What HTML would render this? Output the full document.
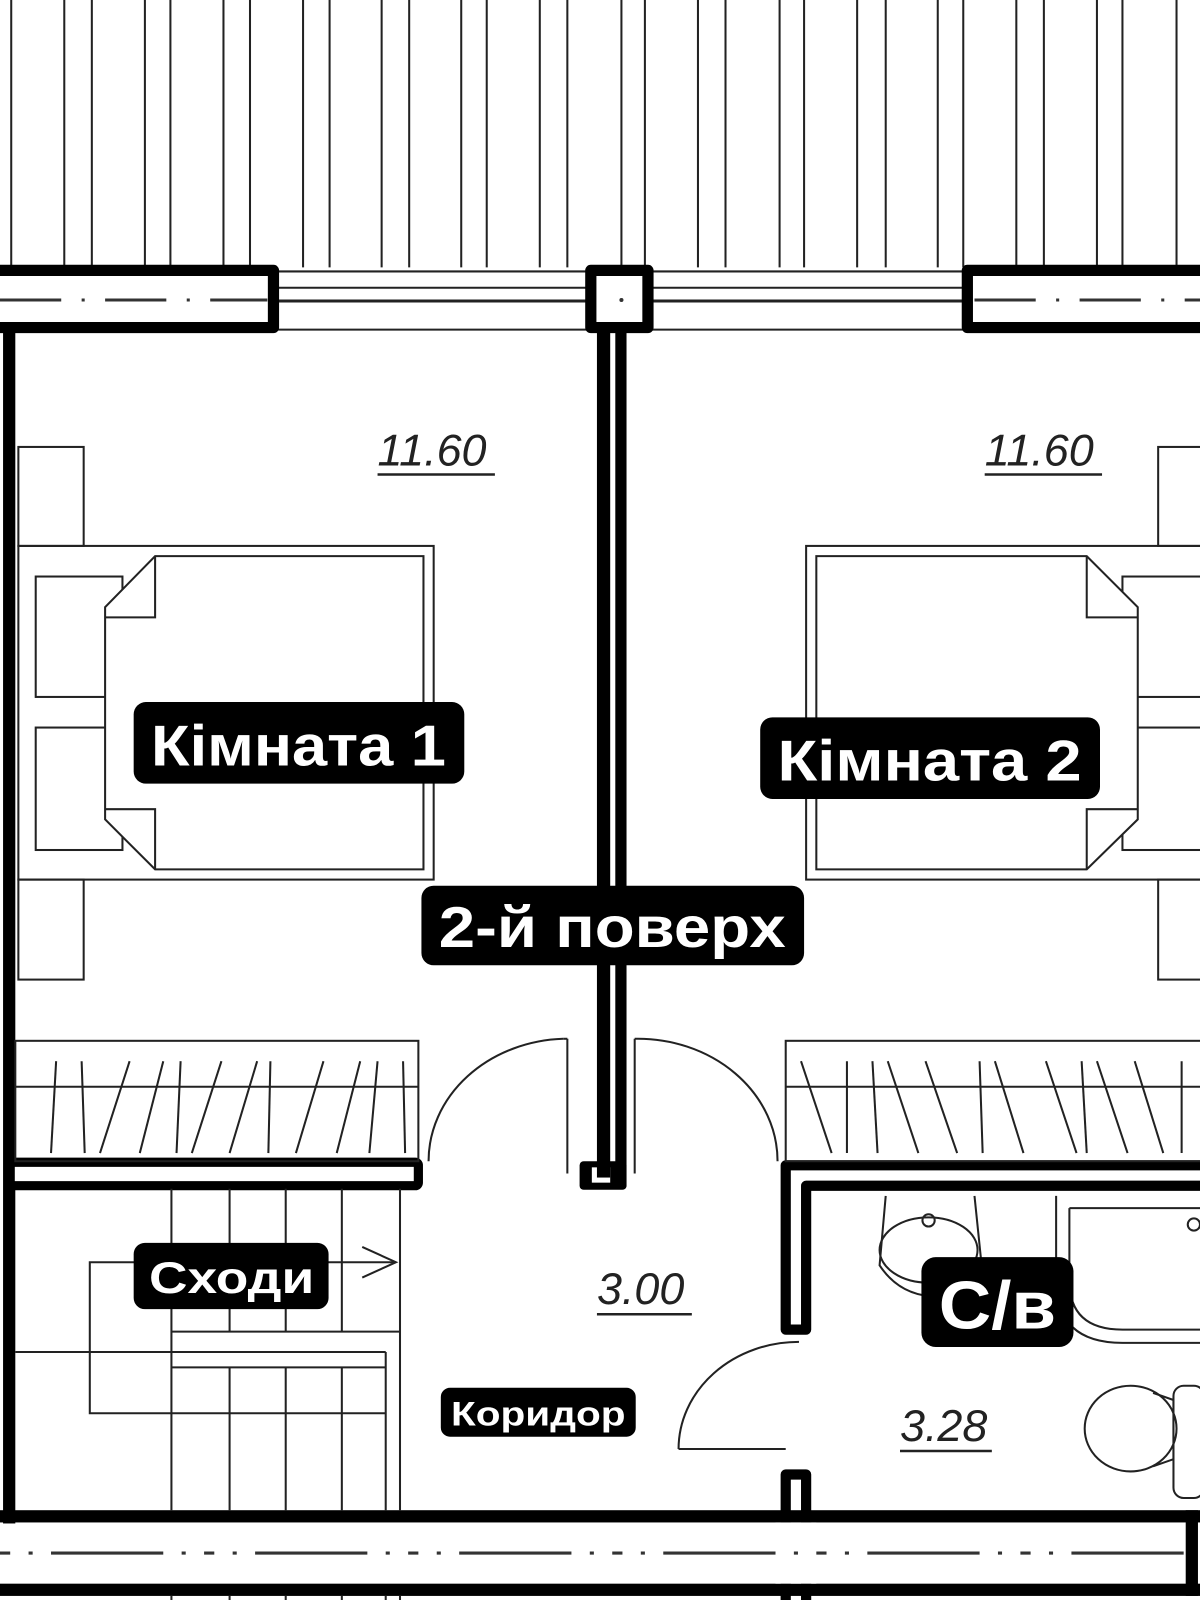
<!DOCTYPE html>
<html><head><meta charset="utf-8"><style>
html,body{margin:0;padding:0;background:#fff;}
svg{display:block;}
.t{font-family:"Liberation Sans",sans-serif;}
</style></head><body>
<svg width="1200" height="1600" viewBox="0 0 1176 1568" xmlns="http://www.w3.org/2000/svg">
<rect x="0" y="0" width="1176" height="1568" fill="#fff"/>
<g stroke="#222" stroke-width="2">
<line x1="11" y1="0" x2="11" y2="262"/><line x1="63" y1="0" x2="63" y2="262"/><line x1="90" y1="0" x2="90" y2="262"/><line x1="142" y1="0" x2="142" y2="262"/><line x1="167" y1="0" x2="167" y2="262"/><line x1="219" y1="0" x2="219" y2="262"/><line x1="245" y1="0" x2="245" y2="262"/><line x1="297" y1="0" x2="297" y2="262"/><line x1="323" y1="0" x2="323" y2="262"/><line x1="374" y1="0" x2="374" y2="262"/><line x1="401" y1="0" x2="401" y2="262"/><line x1="452" y1="0" x2="452" y2="262"/><line x1="477" y1="0" x2="477" y2="262"/><line x1="529" y1="0" x2="529" y2="262"/><line x1="556" y1="0" x2="556" y2="262"/><line x1="609" y1="0" x2="609" y2="262"/><line x1="632" y1="0" x2="632" y2="262"/><line x1="684" y1="0" x2="684" y2="262"/><line x1="711" y1="0" x2="711" y2="262"/><line x1="764" y1="0" x2="764" y2="262"/><line x1="788" y1="0" x2="788" y2="262"/><line x1="840" y1="0" x2="840" y2="262"/><line x1="868" y1="0" x2="868" y2="262"/><line x1="919" y1="0" x2="919" y2="262"/><line x1="944" y1="0" x2="944" y2="262"/><line x1="996" y1="0" x2="996" y2="262"/><line x1="1023" y1="0" x2="1023" y2="262"/><line x1="1075" y1="0" x2="1075" y2="262"/><line x1="1100" y1="0" x2="1100" y2="262"/><line x1="1153" y1="0" x2="1153" y2="262"/>
</g>
<g stroke="#222" fill="none">
<line x1="270" y1="266" x2="580" y2="266" stroke-width="2"/>
<line x1="270" y1="282" x2="580" y2="282" stroke-width="2"/>
<line x1="270" y1="295" x2="580" y2="295" stroke-width="3"/>
<line x1="270" y1="323" x2="580" y2="323" stroke-width="2"/>
<line x1="635" y1="266" x2="950" y2="266" stroke-width="2"/>
<line x1="635" y1="282" x2="950" y2="282" stroke-width="2"/>
<line x1="635" y1="295" x2="950" y2="295" stroke-width="3"/>
<line x1="635" y1="323" x2="950" y2="323" stroke-width="2"/>
</g>
<g stroke="#000" stroke-width="11" fill="#fff" stroke-linejoin="round">
<rect x="-10" y="265" width="278" height="56"/>
<rect x="579" y="265" width="56" height="56"/>
<rect x="948" y="265" width="240" height="56"/>
</g>
<g stroke="#333" stroke-width="3" stroke-dasharray="60 20 3 20">
<line x1="0" y1="294" x2="262" y2="294"/>
<line x1="955" y1="294" x2="1176" y2="294"/>
</g>
<circle cx="609" cy="294" r="2" fill="#333"/>
<rect x="3" y="318" width="12" height="1175" fill="#000"/>
<rect x="585" y="321" width="13" height="842" fill="#000"/>
<rect x="603" y="321" width="11" height="842" fill="#000"/>
<rect x="568" y="1138" width="46" height="28" rx="4" fill="#000"/>
<rect x="580" y="1144" width="18" height="15" fill="#fff"/>
<rect x="585" y="1140" width="13" height="14" fill="#000"/>
<rect x="10" y="1139" width="400" height="23" rx="3" fill="#fff" stroke="#000" stroke-width="9"/>
<path d="M1180 1142 H770 V1303 H790 V1162 H1180" fill="#fff" stroke="#000" stroke-width="10" stroke-linejoin="round"/>
<path d="M770 1568 V1445 H790 V1568" fill="#fff" stroke="#000" stroke-width="10" stroke-linejoin="round"/>
<rect x="0" y="1480" width="1176" height="12" fill="#000"/>
<rect x="0" y="1552" width="1176" height="12" fill="#000"/>
<rect x="1162" y="1480" width="12" height="84" fill="#000"/>
<rect x="760" y="1492" width="40" height="60" fill="#fff"/>
<line x1="0" y1="1522" x2="1160" y2="1522" stroke="#333" stroke-width="3" stroke-dasharray="10 18 4 18 110 18 4 18"/>
<g stroke="#222" stroke-width="2" fill="none">
<rect x="15" y="1020" width="395" height="118"/>
<line x1="15" y1="1065" x2="410" y2="1065"/>
<line x1="55" y1="1040" x2="50" y2="1130"/><line x1="80" y1="1040" x2="83" y2="1130"/><line x1="127" y1="1040" x2="98" y2="1130"/><line x1="160" y1="1040" x2="137" y2="1130"/><line x1="177" y1="1040" x2="173" y2="1130"/><line x1="217" y1="1040" x2="188" y2="1130"/><line x1="252" y1="1040" x2="225" y2="1130"/><line x1="265" y1="1040" x2="263" y2="1130"/><line x1="317" y1="1040" x2="290" y2="1130"/><line x1="353" y1="1040" x2="330" y2="1130"/><line x1="370" y1="1040" x2="362" y2="1130"/><line x1="395" y1="1040" x2="397" y2="1130"/>
<rect x="770" y="1020" width="420" height="118"/>
<line x1="770" y1="1065" x2="1176" y2="1065"/>
<line x1="785" y1="1040" x2="815" y2="1130"/><line x1="830" y1="1040" x2="830" y2="1130"/><line x1="855" y1="1040" x2="860" y2="1130"/><line x1="870" y1="1040" x2="900" y2="1130"/><line x1="907" y1="1040" x2="938" y2="1130"/><line x1="960" y1="1040" x2="963" y2="1130"/><line x1="975" y1="1040" x2="1003" y2="1130"/><line x1="1025" y1="1040" x2="1055" y2="1130"/><line x1="1060" y1="1040" x2="1065" y2="1130"/><line x1="1075" y1="1040" x2="1105" y2="1130"/><line x1="1112" y1="1040" x2="1140" y2="1130"/><line x1="1158" y1="1040" x2="1158" y2="1130"/>
</g>
<g stroke="#222" stroke-width="2" fill="none">
<path d="M420 1138 A137 120 0 0 1 552 1018"/>
<line x1="552" y1="1018" x2="556" y2="1018"/>
<line x1="556" y1="1018" x2="556" y2="1150"/>
<line x1="622" y1="1018" x2="622" y2="1150"/>
<path d="M622 1018 A137 120 0 0 1 762 1138"/>
<path d="M665 1420 A118 105 0 0 1 783 1315"/>
<line x1="665" y1="1420" x2="770" y2="1420"/>
</g>
<g stroke="#222" stroke-width="2" fill="none">
<line x1="168" y1="1165" x2="168" y2="1480"/>
<line x1="225" y1="1165" x2="225" y2="1305"/><line x1="225" y1="1340" x2="225" y2="1480"/>
<line x1="280" y1="1165" x2="280" y2="1305"/><line x1="280" y1="1340" x2="280" y2="1480"/>
<line x1="335" y1="1165" x2="335" y2="1305"/><line x1="335" y1="1340" x2="335" y2="1480"/>
<line x1="392" y1="1165" x2="392" y2="1480"/>
<line x1="378" y1="1325" x2="378" y2="1480"/>
<line x1="168" y1="1564" x2="168" y2="1568"/><line x1="225" y1="1564" x2="225" y2="1568"/><line x1="280" y1="1564" x2="280" y2="1568"/><line x1="335" y1="1564" x2="335" y2="1568"/><line x1="378" y1="1564" x2="378" y2="1568"/><line x1="392" y1="1564" x2="392" y2="1568"/>
<line x1="168" y1="1305" x2="392" y2="1305"/>
<line x1="15" y1="1325" x2="378" y2="1325"/>
<line x1="168" y1="1340" x2="378" y2="1340"/>
<path d="M388 1237 H88 V1385 H378"/>
<path d="M355 1222 L388 1237 L355 1252"/>
</g>
<g stroke="#222" stroke-width="2" fill="none">
<rect x="18" y="438" width="64" height="97"/>
<rect x="18" y="862" width="64" height="98"/>
<rect x="18" y="535" width="407" height="327"/>
<rect x="35" y="565" width="85" height="118"/>
<rect x="35" y="713" width="85" height="120"/>
<path d="M152 545 H415 V852 H152 L103 803 V595 Z" fill="#fff"/>
<path d="M152 545 V605 H103"/>
<path d="M152 852 V793 H103"/>
<rect x="1135" y="438" width="50" height="97"/>
<rect x="1135" y="862" width="50" height="98"/>
<rect x="790" y="535" width="400" height="327"/>
<rect x="1100" y="565" width="90" height="118"/>
<rect x="1100" y="713" width="90" height="120"/>
<path d="M1065 545 H800 V852 H1065 L1115 803 V595 Z" fill="#fff"/>
<path d="M1065 545 V605 H1115"/>
<path d="M1065 852 V793 H1115"/>
</g>
<g stroke="#222" stroke-width="2" fill="none">
<path d="M868 1172 L862 1240 Q885 1275 930 1270 L962 1240 L955 1172"/>
<ellipse cx="910" cy="1225" rx="48" ry="32"/>
<circle cx="910" cy="1196" r="6"/>
<path d="M1035 1172 V1255 Q1035 1316 1100 1316 H1176"/>
<path d="M1048 1184 H1176 M1048 1184 V1255 Q1048 1303 1100 1303 H1176"/>
<circle cx="1170" cy="1200" r="6"/>
<ellipse cx="1108" cy="1400" rx="45" ry="42"/>
<path d="M1130 1365 L1150 1372 V1430 L1130 1437"/>
<rect x="1150" y="1358" width="30" height="110" rx="10"/>
</g>
<g class="t" font-style="italic" font-size="44" fill="#222">
<text x="370" y="456">11.60</text>
<text x="965" y="456">11.60</text>
<text x="585" y="1278">3.00</text>
<text x="882" y="1412">3.28</text>
</g>
<g stroke="#222" stroke-width="2.5">
<line x1="370" y1="465" x2="485" y2="465"/>
<line x1="965" y1="465" x2="1080" y2="465"/>
<line x1="585" y1="1288" x2="678" y2="1288"/>
<line x1="882" y1="1422" x2="972" y2="1422"/>
</g>
<g fill="#000">
<rect x="131" y="688" width="324" height="80" rx="12"/>
<rect x="745" y="703" width="333" height="80" rx="12"/>
<rect x="413" y="868" width="375" height="78" rx="12"/>
<rect x="131" y="1218" width="191" height="65" rx="11"/>
<rect x="432" y="1360" width="191" height="48" rx="9"/>
<rect x="903" y="1232" width="149" height="88" rx="14"/>
</g>
<g class="t" font-weight="bold" fill="#fff">
<text x="148" y="750" font-size="56" textLength="289" lengthAdjust="spacingAndGlyphs">Кімната 1</text>
<text x="762" y="765" font-size="56" textLength="298" lengthAdjust="spacingAndGlyphs">Кімната 2</text>
<text x="430" y="928" font-size="56" textLength="340" lengthAdjust="spacingAndGlyphs">2-й поверх</text>
<text x="146" y="1267" font-size="44" textLength="162" lengthAdjust="spacingAndGlyphs">Сходи</text>
<text x="442" y="1397" font-size="34" textLength="171" lengthAdjust="spacingAndGlyphs">Коридор</text>
<text x="920" y="1302" font-size="66" textLength="115" lengthAdjust="spacingAndGlyphs">С/в</text>
</g>
</svg>
</body></html>
